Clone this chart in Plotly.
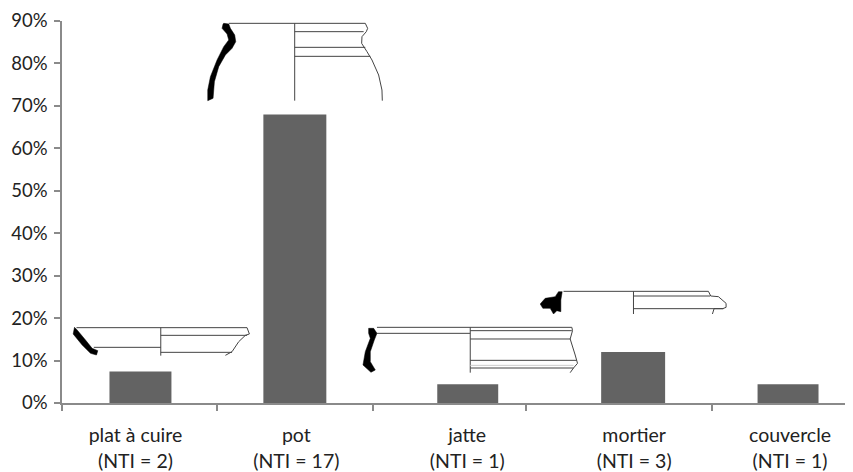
import plotly.graph_objects as go

# ---- data ----
categories = ["plat à cuire<br>(NTI = 2)", "pot<br>(NTI = 17)", "jatte<br>(NTI = 1)",
              "mortier<br>(NTI = 3)", "couvercle<br>(NTI = 1)"]
values = [7.4, 68, 4.4, 12, 4.4]
y_ticks = [0, 10, 20, 30, 40, 50, 60, 70, 80, 90]
y_labels = ["0%", "10%", "20%", "30%", "40%", "50%", "60%", "70%", "80%", "90%"]

# ---- layout geometry (page pixels) ----
W, H = 853, 472
PAGE_MARGIN = 8  # browser default body margin
L, R, T, B = 61.5, 853, 21, 403
bar_centres = [140, 294.5, 467.5, 633, 788]
bar_widths = [62, 63, 61, 64, 61]
label_centres = [135, 296, 467, 634, 790]
separators = [61.5, 217, 373, 526, 711.5]

GREY = "#8a8a8a"
TEXT = "#222222"
FONT = "Lato, Carlito, sans-serif"


def page(px, py):
    return (px - L) / (R - L), (B - py) / (B - T)


def svg(points, x0, y0, close=False):
    out = []
    for i, (zx, zy) in enumerate(points):
        x, y = page(x0 + zx / 3, y0 + zy / 3)
        out.append(f"{'M' if i == 0 else 'L'}{x:.5f},{y:.5f}")
    return " ".join(out) + (" Z" if close else "")


def drawing(x0, y0, solid, lines):
    items = [dict(type="path", xref="paper", yref="paper", path=svg(solid, x0, y0, True),
                  fillcolor="black", line=dict(color="black", width=0.5), layer="above")]
    for pts, col in lines:
        items.append(dict(type="path", xref="paper", yref="paper", path=svg(pts, x0, y0),
                          line=dict(color=col, width=1), layer="above"))
    return items


INK = "#444444"
shapes = []
# pot
shapes += drawing(200, 10,
    [(70, 40), (85, 42), (90, 55), (103, 75), (106, 95), (95, 115), (75, 135), (55, 170),
     (42, 215), (38, 265), (22, 272), (22, 240), (30, 200), (50, 150), (70, 110), (85, 90),
     (80, 72), (65, 55), (68, 42)],
    [([(85, 40), (495, 40)], INK), ([(283, 40), (283, 272)], INK), ([(283, 65), (490, 65)], INK),
     ([(283, 112), (495, 112)], INK), ([(283, 139), (510, 139)], INK),
     ([(495, 40), (502, 55), (498, 65), (485, 80), (484, 100), (500, 125), (515, 150),
       (535, 195), (545, 240), (546, 272)], INK)])
# plat a cuire
shapes += drawing(50, 310,
    [(72, 52), (80, 60), (105, 90), (125, 115), (142, 122), (138, 135), (120, 130), (95, 105), (68, 72)],
    [([(78, 53), (590, 53)], INK), ([(331, 53), (331, 137)], INK), ([(130, 112), (331, 112)], INK),
     ([(331, 76), (590, 76)], INK), ([(331, 127), (545, 127)], INK),
     ([(590, 53), (597, 72), (585, 76), (565, 95), (545, 125), (525, 136)], INK)])
# jatte
shapes += drawing(350, 280,
    [(55, 145), (70, 145), (80, 160), (72, 180), (60, 215), (60, 245), (75, 270), (62, 277),
     (38, 255), (45, 215), (60, 175), (55, 160)],
    [([(80, 142), (665, 142)], INK), ([(80, 160), (360, 160)], INK), ([(360, 142), (360, 278)], INK),
     ([(360, 152), (665, 152)], INK), ([(360, 177), (660, 177)], INK), ([(360, 241), (680, 241)], INK),
     ([(360, 256), (670, 256)], "#cccccc"), ([(360, 264), (670, 264)], INK),
     ([(665, 142), (667, 152), (660, 177), (675, 225), (682, 250), (670, 264), (660, 278)], INK)])
# mortier
shapes += drawing(350, 280,
    [(625, 35), (636, 35), (632, 60), (632, 95), (620, 92), (610, 102), (600, 85), (578, 85),
     (570, 72), (585, 55), (615, 50)],
    [([(640, 34), (1075, 34)], INK), ([(850, 34), (850, 102)], INK), ([(850, 48), (1080, 48)], INK),
     ([(850, 86), (1120, 86)], INK),
     ([(1075, 34), (1082, 48), (1105, 50), (1128, 70), (1128, 82), (1118, 86), (1092, 86), (1087, 102)], INK)])

fig = go.Figure(go.Bar(x=bar_centres, y=values, width=bar_widths, marker=dict(color="#636363", line_width=0)))

fig.update_layout(
    width=W - PAGE_MARGIN, height=H - PAGE_MARGIN, autosize=False,
    margin=dict(l=L - PAGE_MARGIN, r=W - R, t=T - PAGE_MARGIN, b=H - B, pad=0),
    paper_bgcolor="white", plot_bgcolor="white", showlegend=False,
    font=dict(family=FONT, color=TEXT),
    shapes=shapes,
    xaxis=dict(range=[L, R], tickmode="array", tickvals=label_centres, ticktext=categories,
               ticks="", showgrid=False, zeroline=False, showline=True, linecolor=GREY, linewidth=1.5,
               tickfont=dict(size=19.5, family=FONT, color=TEXT), ticklabelstandoff=14, tickangle=0,
               minor=dict(tickmode="array", tickvals=separators, ticks="outside", ticklen=6,
                          tickcolor=GREY, tickwidth=1.5, showgrid=False)),
    yaxis=dict(range=[0, 90], tickmode="array", tickvals=y_ticks, ticktext=y_labels,
               ticks="outside", ticklen=6, tickcolor=GREY, tickwidth=1.5,
               showgrid=False, zeroline=False, showline=True, linecolor=GREY, linewidth=1.5,
               tickfont=dict(size=18.5, family=FONT, color=TEXT), ticklabelstandoff=3),
)

fig.write_html("out.html")
